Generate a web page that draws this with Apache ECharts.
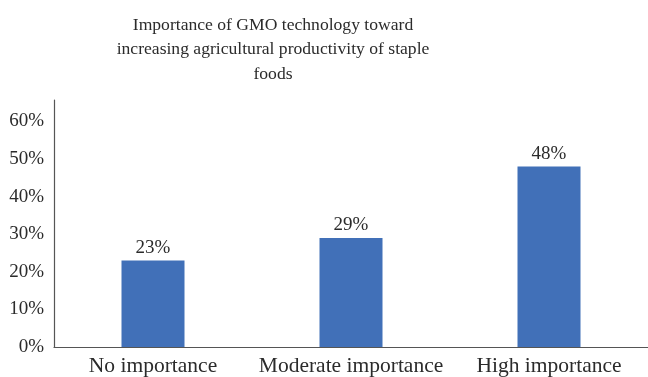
<!DOCTYPE html>
<html>
<head>
<meta charset="utf-8">
<script src="https://cdn.jsdelivr.net/npm/echarts@6/dist/echarts.min.js"></script>
<style>
  html, body { margin: 0; padding: 0; background: #fff; }
  #chart { width: 648px; height: 377px; }
</style>
</head>
<body>
<div id="chart"></div>
<script>
// Survey responses: perceived importance of GMO technology
const categories = ['No importance', 'Moderate importance', 'High importance'];
const shares = [23, 29, 48];
const yTicks = [0, 10, 20, 30, 40, 50, 60];

const FONT = '"Liberation Serif", "DejaVu Serif", serif';
const TEXT = '#2b2b2b';

const chart = echarts.init(document.getElementById('chart'), null, { renderer: 'canvas' });

chart.setOption({
  animation: false,
  backgroundColor: '#ffffff',
  title: {
    text: 'Importance of GMO technology toward\nincreasing agricultural productivity of staple\nfoods',
    left: 273,
    top: 13,
    padding: 0,
    textAlign: 'center',
    textStyle: {
      fontFamily: FONT,
      fontWeight: 'normal',
      fontSize: 17.6,
      lineHeight: 24.5,
      color: TEXT
    }
  },
  grid: { left: 54, top: 100, width: 598, bottom: 28, containLabel: false },
  xAxis: {
    type: 'category',
    data: categories,
    axisLine: { show: true, lineStyle: { color: '#555', width: 1.2 } },
    axisTick: { show: false },
    axisLabel: { interval: 0, fontFamily: FONT, fontSize: 21.5, color: TEXT, margin: 8 }
  },
  yAxis: {
    type: 'value',
    min: 0,
    max: 65.7,
    interval: 10,
    axisLine: { show: true, lineStyle: { color: '#555', width: 1.2 } },
    axisTick: { show: false },
    splitLine: { show: false },
    axisLabel: {
      fontFamily: FONT,
      fontSize: 19,
      color: TEXT,
      margin: 10,
      formatter: function (v) {
        return yTicks.indexOf(Math.round(v)) >= 0 && Math.abs(v - Math.round(v)) < 1e-6 ? Math.round(v) + '%' : '';
      }
    }
  },
  series: [{
    type: 'bar',
    data: shares,
    barWidth: 63,
    itemStyle: { color: '#4170B8' },
    label: {
      show: true,
      position: 'top',
      distance: 3,
      formatter: '{c}%',
      fontFamily: FONT,
      fontSize: 19,
      color: TEXT
    }
  }]
});
</script>
</body>
</html>
